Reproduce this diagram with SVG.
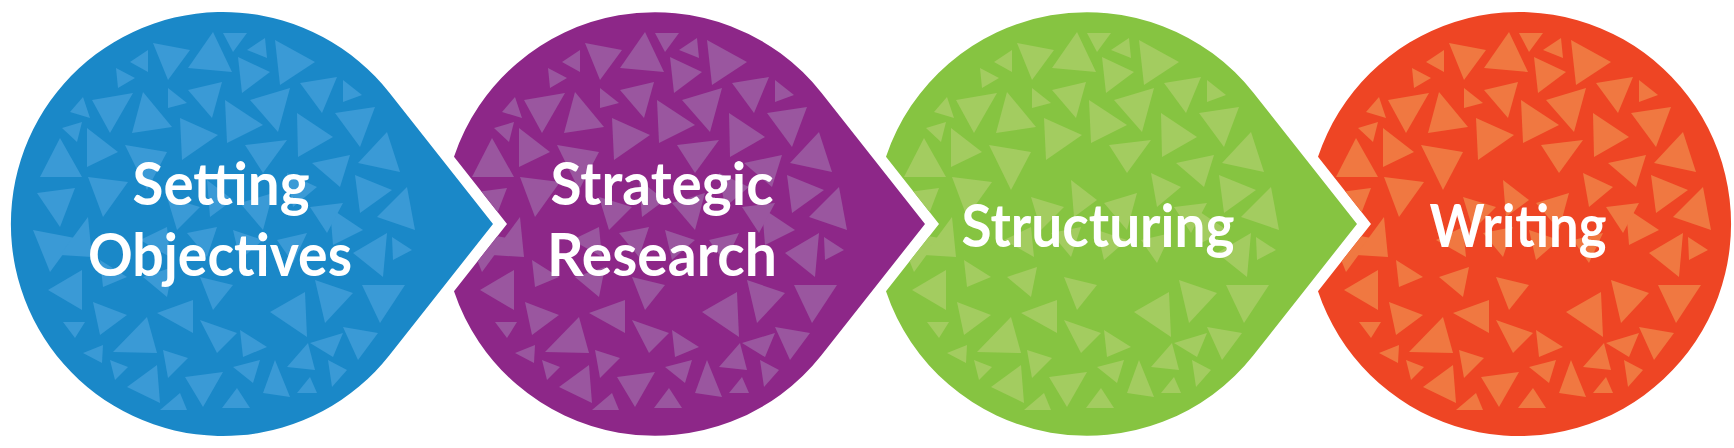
<svg xmlns="http://www.w3.org/2000/svg" xmlns:xlink="http://www.w3.org/1999/xlink" width="1734" height="448" viewBox="0 0 1734 448">
<style>
.label{font-family:Lato,"Open Sans","Liberation Sans",sans-serif;font-weight:700;font-size:60px;fill:#ffffff;text-anchor:middle}
.blue{fill:#1A88C8}.blue-t{fill:#3A9AD6}
.purple{fill:#8D2788}.purple-t{fill:#9A569F}
.green{fill:#86C441}.green-t{fill:#A3CC60}
.orange{fill:#EE4524}.orange-t{fill:#F07841}
</style>
<defs>
<path id="shape-blue" d="M389.4,92.8 L493,224 L389.4,355.2 A212,212 0 1 1 389.4,92.8 Z"/>
<path id="shape-purple" d="M454,156.8 A212,212 0 0 1 821.4,92.8 L925,224 L821.4,355.2 A212,212 0 0 1 454,291.2 L507,224 Z"/>
<path id="shape-green" d="M886,156.8 A212,212 0 0 1 1253.4,92.8 L1357,224 L1253.4,355.2 A212,212 0 0 1 886,291.2 L939,224 Z"/>
<path id="shape-orange" d="M1318,156.8 A212,212 0 1 1 1318,291.2 L1371,224 Z"/>
<clipPath id="clip-blue"><use xlink:href="#shape-blue"/></clipPath>
<clipPath id="clip-purple"><use xlink:href="#shape-purple"/></clipPath>
<clipPath id="clip-green"><use xlink:href="#shape-green"/></clipPath>
<clipPath id="clip-orange"><use xlink:href="#shape-orange"/></clipPath>
<g id="tris">
<polygon points="153,43 190,50 168,80"/>
<polygon points="188,68 213,32 232,72"/>
<polygon points="223,33 247,33 233,52"/>
<polygon points="247,50 265,38 267,58"/>
<polygon points="275,40 315,62 280,85"/>
<polygon points="130,62 148,50 148,72"/>
<polygon points="116,68 135,78 118,88"/>
<polygon points="238,57 270,72 242,93"/>
<polygon points="300,83 337,77 322,113"/>
<polygon points="343,80 362,95 343,102"/>
<polygon points="92,100 133,93 110,133"/>
<polygon points="70,112 83,97 90,118"/>
<polygon points="132,133 143,92 172,127"/>
<polygon points="168,88 187,103 168,108"/>
<polygon points="188,90 222,82 212,118"/>
<polygon points="250,100 290,88 278,132"/>
<polygon points="225,100 263,125 227,143"/>
<polygon points="335,113 375,107 360,147"/>
<polygon points="62,128 82,122 77,142"/>
<polygon points="40,177 60,138 82,177"/>
<polygon points="87,128 118,152 87,167"/>
<polygon points="125,145 167,152 147,190"/>
<polygon points="180,118 218,135 182,160"/>
<polygon points="245,145 287,140 263,173"/>
<polygon points="297,113 333,137 298,157"/>
<polygon points="358,163 387,132 400,172"/>
<polygon points="37,193 75,188 60,227"/>
<polygon points="88,177 128,182 103,217"/>
<polygon points="312,163 350,155 340,187"/>
<polygon points="355,175 392,190 360,213"/>
<polygon points="377,217 407,187 415,230"/>
<polygon points="330,208 363,230 333,245"/>
<polygon points="33,230 75,238 50,272"/>
<polygon points="48,290 82,270 82,310"/>
<polygon points="63,322 85,322 75,338"/>
<polygon points="93,302 127,315 100,335"/>
<polygon points="113,352 147,317 157,353"/>
<polygon points="83,353 103,345 102,363"/>
<polygon points="110,360 128,367 115,380"/>
<polygon points="127,387 157,365 160,403"/>
<polygon points="185,377 223,372 203,407"/>
<polygon points="222,408 237,388 250,408"/>
<polygon points="287,367 308,343 315,370"/>
<polygon points="270,312 305,292 307,337"/>
<polygon points="315,280 353,293 325,323"/>
<polygon points="362,285 405,285 380,323"/>
<polygon points="343,327 378,333 358,360"/>
<polygon points="392,237 412,250 393,260"/>
<polygon points="60,255 88,217 92,257"/>
<polygon points="167,197 200,207 177,230"/>
<polygon points="207,180 233,200 210,217"/>
<polygon points="240,203 273,193 263,230"/>
<polygon points="287,173 317,187 293,207"/>
<polygon points="310,207 343,203 327,233"/>
<polygon points="233,230 263,240 240,260"/>
<polygon points="187,233 217,227 207,257"/>
<polygon points="140,240 167,227 170,257"/>
<polygon points="277,240 307,233 293,263"/>
<polygon points="100,260 127,277 103,287"/>
<polygon points="143,277 173,267 167,297"/>
<polygon points="200,277 233,285 213,310"/>
<polygon points="157,313 193,300 193,333"/>
<polygon points="200,320 237,333 217,353"/>
<polygon points="240,330 267,347 243,357"/>
<polygon points="163,350 188,358 168,378"/>
<polygon points="233,367 260,360 253,383"/>
<polygon points="263,393 275,360 290,397"/>
<polygon points="310,343 343,333 333,357"/>
<polygon points="328,360 347,370 332,387"/>
<polygon points="297,393 310,377 317,393"/>
<polygon points="353,253 387,233 383,277"/>
<polygon points="160,410 180,393 187,410"/>
</g>
</defs>
<rect x="0" y="0" width="1734" height="448" fill="#ffffff"/>
<g id="connectors"/>
<g id="node-setting-objectives">
<use xlink:href="#shape-blue" class="blue"/>
<g clip-path="url(#clip-blue)"><use xlink:href="#tris" class="blue-t"/></g>
<text class="label" x="221" y="205" textLength="177" lengthAdjust="spacingAndGlyphs">Setting</text>
<text class="label" x="220" y="276" textLength="264" lengthAdjust="spacingAndGlyphs">Objectives</text>
</g>
<g id="node-strategic-research">
<use xlink:href="#shape-purple" class="purple"/>
<g clip-path="url(#clip-purple)"><use xlink:href="#tris" x="432" class="purple-t"/></g>
<text class="label" x="662" y="205" textLength="223" lengthAdjust="spacingAndGlyphs">Strategic</text>
<text class="label" x="662" y="276" textLength="230" lengthAdjust="spacingAndGlyphs">Research</text>
</g>
<g id="node-structuring">
<use xlink:href="#shape-green" class="green"/>
<g clip-path="url(#clip-green)"><use xlink:href="#tris" x="864" class="green-t"/></g>
<text class="label" x="1098" y="247" textLength="273" lengthAdjust="spacingAndGlyphs">Structuring</text>
</g>
<g id="node-writing">
<use xlink:href="#shape-orange" class="orange"/>
<g clip-path="url(#clip-orange)"><use xlink:href="#tris" x="1296" class="orange-t"/></g>
<text class="label" x="1518" y="247" textLength="177" lengthAdjust="spacingAndGlyphs">Writing</text>
</g>
</svg>
